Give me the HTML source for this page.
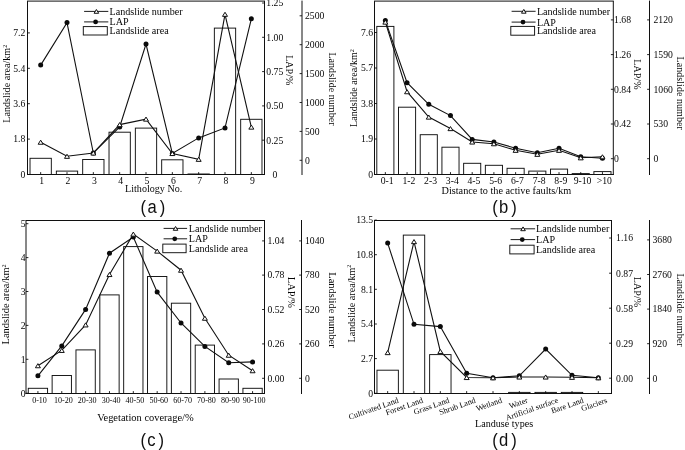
<!DOCTYPE html>
<html><head><meta charset="utf-8"><title>Landslide statistics</title>
<style>
html,body{margin:0;padding:0;background:#fff;}
svg{display:block;}
svg text{font-family:"Liberation Serif",serif;fill:#050505;}
</style></head><body>
<svg width="685" height="450" viewBox="0 0 685 450">
<defs><filter id="soft" x="0" y="0" width="685" height="450" filterUnits="userSpaceOnUse" color-interpolation-filters="sRGB"><feGaussianBlur stdDeviation="0.42"/></filter></defs>
<rect width="685" height="450" fill="#fff"/>
<g filter="url(#soft)">
<rect width="685" height="450" fill="#fff"/>
<rect x="30.02" y="158.30" width="21.30" height="16.20" fill="#fff" stroke="#101010" stroke-width="0.95"/>
<rect x="56.35" y="171.10" width="21.30" height="3.40" fill="#fff" stroke="#101010" stroke-width="0.95"/>
<rect x="82.68" y="159.50" width="21.30" height="15.00" fill="#fff" stroke="#101010" stroke-width="0.95"/>
<rect x="109.02" y="132.20" width="21.30" height="42.30" fill="#fff" stroke="#101010" stroke-width="0.95"/>
<rect x="135.35" y="128.10" width="21.30" height="46.40" fill="#fff" stroke="#101010" stroke-width="0.95"/>
<rect x="161.68" y="159.80" width="21.30" height="14.70" fill="#fff" stroke="#101010" stroke-width="0.95"/>
<rect x="188.02" y="174.00" width="21.30" height="0.50" fill="#fff" stroke="#101010" stroke-width="0.95"/>
<rect x="214.35" y="28.10" width="21.30" height="146.40" fill="#fff" stroke="#101010" stroke-width="0.95"/>
<rect x="240.68" y="119.30" width="21.30" height="55.20" fill="#fff" stroke="#101010" stroke-width="0.95"/>
<line x1="27.50" y1="1.10" x2="27.50" y2="175.00" stroke="#101010" stroke-width="1.0"/>
<line x1="264.50" y1="1.10" x2="264.50" y2="175.00" stroke="#101010" stroke-width="1.0"/>
<line x1="27.00" y1="1.10" x2="265.00" y2="1.10" stroke="#101010" stroke-width="1.0"/>
<line x1="27.00" y1="174.50" x2="265.00" y2="174.50" stroke="#101010" stroke-width="1.1"/>
<line x1="302.00" y1="0.60" x2="302.00" y2="175.00" stroke="#101010" stroke-width="1.0"/>
<line x1="27.50" y1="174.50" x2="29.90" y2="174.50" stroke="#101010" stroke-width="0.9"/>
<text x="25.30" y="177.80" font-size="9.7" text-anchor="end">0</text>
<line x1="27.50" y1="139.10" x2="29.90" y2="139.10" stroke="#101010" stroke-width="0.9"/>
<text x="25.30" y="142.40" font-size="9.7" text-anchor="end">1.8</text>
<line x1="27.50" y1="103.70" x2="29.90" y2="103.70" stroke="#101010" stroke-width="0.9"/>
<text x="25.30" y="107.00" font-size="9.7" text-anchor="end">3.6</text>
<line x1="27.50" y1="68.30" x2="29.90" y2="68.30" stroke="#101010" stroke-width="0.9"/>
<text x="25.30" y="71.60" font-size="9.7" text-anchor="end">5.4</text>
<line x1="27.50" y1="32.90" x2="29.90" y2="32.90" stroke="#101010" stroke-width="0.9"/>
<text x="25.30" y="36.20" font-size="9.7" text-anchor="end">7.2</text>
<line x1="262.10" y1="174.50" x2="264.50" y2="174.50" stroke="#101010" stroke-width="0.9"/>
<text x="272.40" y="177.80" font-size="9.7" text-anchor="start">0</text>
<line x1="262.10" y1="140.20" x2="264.50" y2="140.20" stroke="#101010" stroke-width="0.9"/>
<text x="266.30" y="143.50" font-size="9.7" text-anchor="start">0.25</text>
<line x1="262.10" y1="105.90" x2="264.50" y2="105.90" stroke="#101010" stroke-width="0.9"/>
<text x="266.30" y="109.20" font-size="9.7" text-anchor="start">0.50</text>
<line x1="262.10" y1="71.60" x2="264.50" y2="71.60" stroke="#101010" stroke-width="0.9"/>
<text x="266.30" y="74.90" font-size="9.7" text-anchor="start">0.75</text>
<line x1="262.10" y1="37.30" x2="264.50" y2="37.30" stroke="#101010" stroke-width="0.9"/>
<text x="266.30" y="40.60" font-size="9.7" text-anchor="start">1.00</text>
<line x1="262.10" y1="3.00" x2="264.50" y2="3.00" stroke="#101010" stroke-width="0.9"/>
<text x="266.30" y="6.30" font-size="9.7" text-anchor="start">1.25</text>
<line x1="299.60" y1="160.30" x2="302.00" y2="160.30" stroke="#101010" stroke-width="0.9"/>
<text x="305.00" y="163.60" font-size="9.7" text-anchor="start">0</text>
<line x1="299.60" y1="131.40" x2="302.00" y2="131.40" stroke="#101010" stroke-width="0.9"/>
<text x="305.00" y="134.70" font-size="9.7" text-anchor="start">500</text>
<line x1="299.60" y1="102.50" x2="302.00" y2="102.50" stroke="#101010" stroke-width="0.9"/>
<text x="305.00" y="105.80" font-size="9.7" text-anchor="start">1000</text>
<line x1="299.60" y1="73.60" x2="302.00" y2="73.60" stroke="#101010" stroke-width="0.9"/>
<text x="305.00" y="76.90" font-size="9.7" text-anchor="start">1500</text>
<line x1="299.60" y1="44.70" x2="302.00" y2="44.70" stroke="#101010" stroke-width="0.9"/>
<text x="305.00" y="48.00" font-size="9.7" text-anchor="start">2000</text>
<line x1="299.60" y1="15.80" x2="302.00" y2="15.80" stroke="#101010" stroke-width="0.9"/>
<text x="305.00" y="19.10" font-size="9.7" text-anchor="start">2500</text>
<line x1="40.67" y1="172.10" x2="40.67" y2="174.50" stroke="#101010" stroke-width="0.9"/>
<line x1="67.00" y1="172.10" x2="67.00" y2="174.50" stroke="#101010" stroke-width="0.9"/>
<line x1="93.33" y1="172.10" x2="93.33" y2="174.50" stroke="#101010" stroke-width="0.9"/>
<line x1="119.67" y1="172.10" x2="119.67" y2="174.50" stroke="#101010" stroke-width="0.9"/>
<line x1="146.00" y1="172.10" x2="146.00" y2="174.50" stroke="#101010" stroke-width="0.9"/>
<line x1="172.33" y1="172.10" x2="172.33" y2="174.50" stroke="#101010" stroke-width="0.9"/>
<line x1="198.67" y1="172.10" x2="198.67" y2="174.50" stroke="#101010" stroke-width="0.9"/>
<line x1="225.00" y1="172.10" x2="225.00" y2="174.50" stroke="#101010" stroke-width="0.9"/>
<line x1="251.33" y1="172.10" x2="251.33" y2="174.50" stroke="#101010" stroke-width="0.9"/>
<text x="41.67" y="184.30" font-size="9.7" text-anchor="middle">1</text>
<text x="68.00" y="184.30" font-size="9.7" text-anchor="middle">2</text>
<text x="94.33" y="184.30" font-size="9.7" text-anchor="middle">3</text>
<text x="120.67" y="184.30" font-size="9.7" text-anchor="middle">4</text>
<text x="147.00" y="184.30" font-size="9.7" text-anchor="middle">5</text>
<text x="173.33" y="184.30" font-size="9.7" text-anchor="middle">6</text>
<text x="199.67" y="184.30" font-size="9.7" text-anchor="middle">7</text>
<text x="226.00" y="184.30" font-size="9.7" text-anchor="middle">8</text>
<text x="252.33" y="184.30" font-size="9.7" text-anchor="middle">9</text>
<polyline points="40.67,142.20 67.00,156.30 93.33,153.00 119.67,124.60 146.00,119.10 172.33,153.50 198.67,159.30 225.00,14.30 251.33,127.10" fill="none" stroke="#101010" stroke-width="1.1"/>
<polyline points="40.67,65.10 67.00,22.60 93.33,153.00 119.67,126.90 146.00,44.00 172.33,153.50 198.67,137.90 225.00,127.90 251.33,18.80" fill="none" stroke="#101010" stroke-width="1.1"/>
<circle cx="40.67" cy="65.10" r="2.5" fill="#0a0a0a"/>
<circle cx="67.00" cy="22.60" r="2.5" fill="#0a0a0a"/>
<circle cx="93.33" cy="153.00" r="2.5" fill="#0a0a0a"/>
<circle cx="119.67" cy="126.90" r="2.5" fill="#0a0a0a"/>
<circle cx="146.00" cy="44.00" r="2.5" fill="#0a0a0a"/>
<circle cx="172.33" cy="153.50" r="2.5" fill="#0a0a0a"/>
<circle cx="198.67" cy="137.90" r="2.5" fill="#0a0a0a"/>
<circle cx="225.00" cy="127.90" r="2.5" fill="#0a0a0a"/>
<circle cx="251.33" cy="18.80" r="2.5" fill="#0a0a0a"/>
<polygon points="40.67,140.15 38.17,144.25 43.17,144.25" fill="#fff" stroke="#101010" stroke-width="1.0" stroke-linejoin="round"/>
<polygon points="67.00,154.25 64.50,158.35 69.50,158.35" fill="#fff" stroke="#101010" stroke-width="1.0" stroke-linejoin="round"/>
<polygon points="93.33,150.95 90.83,155.05 95.83,155.05" fill="#fff" stroke="#101010" stroke-width="1.0" stroke-linejoin="round"/>
<polygon points="119.67,122.55 117.17,126.65 122.17,126.65" fill="#fff" stroke="#101010" stroke-width="1.0" stroke-linejoin="round"/>
<polygon points="146.00,117.05 143.50,121.15 148.50,121.15" fill="#fff" stroke="#101010" stroke-width="1.0" stroke-linejoin="round"/>
<polygon points="172.33,151.45 169.83,155.55 174.83,155.55" fill="#fff" stroke="#101010" stroke-width="1.0" stroke-linejoin="round"/>
<polygon points="198.67,157.25 196.17,161.35 201.17,161.35" fill="#fff" stroke="#101010" stroke-width="1.0" stroke-linejoin="round"/>
<polygon points="225.00,12.25 222.50,16.35 227.50,16.35" fill="#fff" stroke="#101010" stroke-width="1.0" stroke-linejoin="round"/>
<polygon points="251.33,125.05 248.83,129.15 253.83,129.15" fill="#fff" stroke="#101010" stroke-width="1.0" stroke-linejoin="round"/>
<line x1="84.10" y1="11.40" x2="108.30" y2="11.40" stroke="#101010" stroke-width="0.95"/>
<polygon points="96.40,9.51 94.10,13.29 98.70,13.29" fill="#fff" stroke="#101010" stroke-width="1.0" stroke-linejoin="round"/>
<line x1="84.10" y1="21.90" x2="108.30" y2="21.90" stroke="#101010" stroke-width="0.95"/>
<circle cx="95.60" cy="21.90" r="2.4" fill="#0a0a0a"/>
<rect x="83.30" y="26.60" width="24.00" height="8.40" fill="#fff" stroke="#101010" stroke-width="0.95"/>
<text x="109.50" y="14.80" font-size="10.1" text-anchor="start">Landslide number</text>
<text x="109.50" y="25.30" font-size="10.1" text-anchor="start">LAP</text>
<text x="109.50" y="34.00" font-size="10.1" text-anchor="start">Landslide area</text>
<text x="10.20" y="83.70" font-size="10.1" text-anchor="middle" transform="rotate(-90 10.20 83.70)">Landslide area/km<tspan font-size="6.2" dy="-3.6">2</tspan></text>
<text x="286.00" y="70.30" font-size="10.1" text-anchor="middle" transform="rotate(90 286.00 70.30)">LAP/%</text>
<text x="328.60" y="89.00" font-size="10.1" text-anchor="middle" transform="rotate(90 328.60 89.00)">Landslide number</text>
<text x="153.70" y="191.60" font-size="10.1" text-anchor="middle">Lithology No.</text>
<text transform="translate(140.60 212.60) scale(1 1.075)" font-size="16.6" style="font-family:&quot;Liberation Sans&quot;,sans-serif;fill:#101010">(<tspan dx="1.4">a</tspan><tspan dx="2.9">)</tspan></text>
<rect x="376.80" y="26.40" width="17.10" height="148.10" fill="#fff" stroke="#101010" stroke-width="0.95"/>
<rect x="398.51" y="107.20" width="17.10" height="67.30" fill="#fff" stroke="#101010" stroke-width="0.95"/>
<rect x="420.22" y="134.70" width="17.10" height="39.80" fill="#fff" stroke="#101010" stroke-width="0.95"/>
<rect x="441.93" y="147.20" width="17.10" height="27.30" fill="#fff" stroke="#101010" stroke-width="0.95"/>
<rect x="463.64" y="163.30" width="17.10" height="11.20" fill="#fff" stroke="#101010" stroke-width="0.95"/>
<rect x="485.35" y="165.30" width="17.10" height="9.20" fill="#fff" stroke="#101010" stroke-width="0.95"/>
<rect x="507.06" y="168.30" width="17.10" height="6.20" fill="#fff" stroke="#101010" stroke-width="0.95"/>
<rect x="528.77" y="171.10" width="17.10" height="3.40" fill="#fff" stroke="#101010" stroke-width="0.95"/>
<rect x="550.48" y="169.10" width="17.10" height="5.40" fill="#fff" stroke="#101010" stroke-width="0.95"/>
<rect x="572.19" y="173.60" width="17.10" height="0.90" fill="#fff" stroke="#101010" stroke-width="0.95"/>
<rect x="593.90" y="171.60" width="17.10" height="2.90" fill="#fff" stroke="#101010" stroke-width="0.95"/>
<line x1="374.50" y1="1.10" x2="374.50" y2="175.00" stroke="#101010" stroke-width="1.0"/>
<line x1="613.30" y1="1.10" x2="613.30" y2="175.00" stroke="#101010" stroke-width="1.0"/>
<line x1="374.00" y1="1.10" x2="613.80" y2="1.10" stroke="#101010" stroke-width="1.0"/>
<line x1="374.00" y1="174.50" x2="613.80" y2="174.50" stroke="#101010" stroke-width="1.1"/>
<line x1="649.50" y1="0.60" x2="649.50" y2="175.00" stroke="#101010" stroke-width="1.0"/>
<line x1="374.50" y1="174.50" x2="376.90" y2="174.50" stroke="#101010" stroke-width="0.9"/>
<text x="373.05" y="177.80" font-size="9.7" text-anchor="end">0</text>
<line x1="374.50" y1="139.00" x2="376.90" y2="139.00" stroke="#101010" stroke-width="0.9"/>
<text x="373.05" y="142.30" font-size="9.7" text-anchor="end">1.9</text>
<line x1="374.50" y1="103.50" x2="376.90" y2="103.50" stroke="#101010" stroke-width="0.9"/>
<text x="373.05" y="106.80" font-size="9.7" text-anchor="end">3.8</text>
<line x1="374.50" y1="68.00" x2="376.90" y2="68.00" stroke="#101010" stroke-width="0.9"/>
<text x="373.05" y="71.30" font-size="9.7" text-anchor="end">5.7</text>
<line x1="374.50" y1="32.50" x2="376.90" y2="32.50" stroke="#101010" stroke-width="0.9"/>
<text x="373.05" y="35.80" font-size="9.7" text-anchor="end">7.6</text>
<line x1="610.90" y1="158.70" x2="613.30" y2="158.70" stroke="#101010" stroke-width="0.9"/>
<text x="614.10" y="162.00" font-size="9.7" text-anchor="start">0</text>
<line x1="610.90" y1="124.00" x2="613.30" y2="124.00" stroke="#101010" stroke-width="0.9"/>
<text x="614.10" y="127.30" font-size="9.7" text-anchor="start">0.42</text>
<line x1="610.90" y1="89.30" x2="613.30" y2="89.30" stroke="#101010" stroke-width="0.9"/>
<text x="614.10" y="92.60" font-size="9.7" text-anchor="start">0.84</text>
<line x1="610.90" y1="54.60" x2="613.30" y2="54.60" stroke="#101010" stroke-width="0.9"/>
<text x="614.10" y="57.90" font-size="9.7" text-anchor="start">1.26</text>
<line x1="610.90" y1="19.90" x2="613.30" y2="19.90" stroke="#101010" stroke-width="0.9"/>
<text x="614.10" y="23.20" font-size="9.7" text-anchor="start">1.68</text>
<line x1="647.10" y1="158.70" x2="649.50" y2="158.70" stroke="#101010" stroke-width="0.9"/>
<text x="653.50" y="162.00" font-size="9.7" text-anchor="start">0</text>
<line x1="647.10" y1="124.00" x2="649.50" y2="124.00" stroke="#101010" stroke-width="0.9"/>
<text x="653.50" y="127.30" font-size="9.7" text-anchor="start">530</text>
<line x1="647.10" y1="89.30" x2="649.50" y2="89.30" stroke="#101010" stroke-width="0.9"/>
<text x="653.50" y="92.60" font-size="9.7" text-anchor="start">1060</text>
<line x1="647.10" y1="54.60" x2="649.50" y2="54.60" stroke="#101010" stroke-width="0.9"/>
<text x="653.50" y="57.90" font-size="9.7" text-anchor="start">1590</text>
<line x1="647.10" y1="19.90" x2="649.50" y2="19.90" stroke="#101010" stroke-width="0.9"/>
<text x="653.50" y="23.20" font-size="9.7" text-anchor="start">2120</text>
<line x1="385.35" y1="172.10" x2="385.35" y2="174.50" stroke="#101010" stroke-width="0.9"/>
<line x1="407.06" y1="172.10" x2="407.06" y2="174.50" stroke="#101010" stroke-width="0.9"/>
<line x1="428.77" y1="172.10" x2="428.77" y2="174.50" stroke="#101010" stroke-width="0.9"/>
<line x1="450.48" y1="172.10" x2="450.48" y2="174.50" stroke="#101010" stroke-width="0.9"/>
<line x1="472.19" y1="172.10" x2="472.19" y2="174.50" stroke="#101010" stroke-width="0.9"/>
<line x1="493.90" y1="172.10" x2="493.90" y2="174.50" stroke="#101010" stroke-width="0.9"/>
<line x1="515.61" y1="172.10" x2="515.61" y2="174.50" stroke="#101010" stroke-width="0.9"/>
<line x1="537.32" y1="172.10" x2="537.32" y2="174.50" stroke="#101010" stroke-width="0.9"/>
<line x1="559.03" y1="172.10" x2="559.03" y2="174.50" stroke="#101010" stroke-width="0.9"/>
<line x1="580.74" y1="172.10" x2="580.74" y2="174.50" stroke="#101010" stroke-width="0.9"/>
<line x1="602.45" y1="172.10" x2="602.45" y2="174.50" stroke="#101010" stroke-width="0.9"/>
<text x="387.15" y="184.30" font-size="9.7" text-anchor="middle">0-1</text>
<text x="408.86" y="184.30" font-size="9.7" text-anchor="middle">1-2</text>
<text x="430.57" y="184.30" font-size="9.7" text-anchor="middle">2-3</text>
<text x="452.28" y="184.30" font-size="9.7" text-anchor="middle">3-4</text>
<text x="473.99" y="184.30" font-size="9.7" text-anchor="middle">4-5</text>
<text x="495.70" y="184.30" font-size="9.7" text-anchor="middle">5-6</text>
<text x="517.41" y="184.30" font-size="9.7" text-anchor="middle">6-7</text>
<text x="539.12" y="184.30" font-size="9.7" text-anchor="middle">7-8</text>
<text x="560.83" y="184.30" font-size="9.7" text-anchor="middle">8-9</text>
<text x="582.54" y="184.30" font-size="9.7" text-anchor="middle">9-10</text>
<text x="604.25" y="184.30" font-size="9.7" text-anchor="middle">&gt;10</text>
<polyline points="385.35,22.10 407.06,91.70 428.77,117.10 450.48,128.60 472.19,142.00 493.90,143.70 515.61,150.30 537.32,154.30 559.03,150.30 580.74,157.80 602.45,156.80" fill="none" stroke="#101010" stroke-width="1.1"/>
<polyline points="385.35,20.60 407.06,82.70 428.77,104.30 450.48,115.60 472.19,139.40 493.90,142.00 515.61,148.20 537.32,152.80 559.03,148.20 580.74,156.80 602.45,158.30" fill="none" stroke="#101010" stroke-width="1.1"/>
<circle cx="385.35" cy="20.60" r="2.5" fill="#0a0a0a"/>
<circle cx="407.06" cy="82.70" r="2.5" fill="#0a0a0a"/>
<circle cx="428.77" cy="104.30" r="2.5" fill="#0a0a0a"/>
<circle cx="450.48" cy="115.60" r="2.5" fill="#0a0a0a"/>
<circle cx="472.19" cy="139.40" r="2.5" fill="#0a0a0a"/>
<circle cx="493.90" cy="142.00" r="2.5" fill="#0a0a0a"/>
<circle cx="515.61" cy="148.20" r="2.5" fill="#0a0a0a"/>
<circle cx="537.32" cy="152.80" r="2.5" fill="#0a0a0a"/>
<circle cx="559.03" cy="148.20" r="2.5" fill="#0a0a0a"/>
<circle cx="580.74" cy="156.80" r="2.5" fill="#0a0a0a"/>
<circle cx="602.45" cy="158.30" r="2.5" fill="#0a0a0a"/>
<polygon points="385.35,20.05 382.85,24.15 387.85,24.15" fill="#fff" stroke="#101010" stroke-width="1.0" stroke-linejoin="round"/>
<polygon points="407.06,89.65 404.56,93.75 409.56,93.75" fill="#fff" stroke="#101010" stroke-width="1.0" stroke-linejoin="round"/>
<polygon points="428.77,115.05 426.27,119.15 431.27,119.15" fill="#fff" stroke="#101010" stroke-width="1.0" stroke-linejoin="round"/>
<polygon points="450.48,126.55 447.98,130.65 452.98,130.65" fill="#fff" stroke="#101010" stroke-width="1.0" stroke-linejoin="round"/>
<polygon points="472.19,139.95 469.69,144.05 474.69,144.05" fill="#fff" stroke="#101010" stroke-width="1.0" stroke-linejoin="round"/>
<polygon points="493.90,141.65 491.40,145.75 496.40,145.75" fill="#fff" stroke="#101010" stroke-width="1.0" stroke-linejoin="round"/>
<polygon points="515.61,148.25 513.11,152.35 518.11,152.35" fill="#fff" stroke="#101010" stroke-width="1.0" stroke-linejoin="round"/>
<polygon points="537.32,152.25 534.82,156.35 539.82,156.35" fill="#fff" stroke="#101010" stroke-width="1.0" stroke-linejoin="round"/>
<polygon points="559.03,148.25 556.53,152.35 561.53,152.35" fill="#fff" stroke="#101010" stroke-width="1.0" stroke-linejoin="round"/>
<polygon points="580.74,155.75 578.24,159.85 583.24,159.85" fill="#fff" stroke="#101010" stroke-width="1.0" stroke-linejoin="round"/>
<polygon points="602.45,154.75 599.95,158.85 604.95,158.85" fill="#fff" stroke="#101010" stroke-width="1.0" stroke-linejoin="round"/>
<line x1="511.60" y1="11.30" x2="535.60" y2="11.30" stroke="#101010" stroke-width="0.95"/>
<polygon points="523.80,9.41 521.50,13.19 526.10,13.19" fill="#fff" stroke="#101010" stroke-width="1.0" stroke-linejoin="round"/>
<line x1="511.60" y1="22.10" x2="535.60" y2="22.10" stroke="#101010" stroke-width="0.95"/>
<circle cx="523.00" cy="22.10" r="2.4" fill="#0a0a0a"/>
<rect x="510.80" y="26.40" width="23.80" height="8.80" fill="#fff" stroke="#101010" stroke-width="0.95"/>
<text x="536.90" y="14.70" font-size="10.1" text-anchor="start">Landslide number</text>
<text x="536.90" y="25.50" font-size="10.1" text-anchor="start">LAP</text>
<text x="536.90" y="34.00" font-size="10.1" text-anchor="start">Landslide area</text>
<text x="357.20" y="88.00" font-size="10.1" text-anchor="middle" transform="rotate(-90 357.20 88.00)">Landslide area/km<tspan font-size="6.2" dy="-3.6">2</tspan></text>
<text x="633.50" y="74.40" font-size="10.1" text-anchor="middle" transform="rotate(90 633.50 74.40)">LAP/%</text>
<text x="677.00" y="93.20" font-size="10.1" text-anchor="middle" transform="rotate(90 677.00 93.20)">Landslide number</text>
<text x="506.40" y="194.30" font-size="10.25" text-anchor="middle">Distance to the active faults/km</text>
<text transform="translate(492.20 212.60) scale(1 1.075)" font-size="16.6" style="font-family:&quot;Liberation Sans&quot;,sans-serif;fill:#101010">(<tspan dx="1.4">b</tspan><tspan dx="2.9">)</tspan></text>
<rect x="28.27" y="388.30" width="19.30" height="5.20" fill="#fff" stroke="#101010" stroke-width="0.95"/>
<rect x="52.13" y="375.50" width="19.30" height="18.00" fill="#fff" stroke="#101010" stroke-width="0.95"/>
<rect x="75.97" y="349.90" width="19.30" height="43.60" fill="#fff" stroke="#101010" stroke-width="0.95"/>
<rect x="99.83" y="294.90" width="19.30" height="98.60" fill="#fff" stroke="#101010" stroke-width="0.95"/>
<rect x="123.67" y="246.60" width="19.30" height="146.90" fill="#fff" stroke="#101010" stroke-width="0.95"/>
<rect x="147.53" y="276.50" width="19.30" height="117.00" fill="#fff" stroke="#101010" stroke-width="0.95"/>
<rect x="171.38" y="303.20" width="19.30" height="90.30" fill="#fff" stroke="#101010" stroke-width="0.95"/>
<rect x="195.22" y="345.10" width="19.30" height="48.40" fill="#fff" stroke="#101010" stroke-width="0.95"/>
<rect x="219.08" y="379.00" width="19.30" height="14.50" fill="#fff" stroke="#101010" stroke-width="0.95"/>
<rect x="242.93" y="388.30" width="19.30" height="5.20" fill="#fff" stroke="#101010" stroke-width="0.95"/>
<line x1="26.00" y1="220.50" x2="26.00" y2="394.00" stroke="#101010" stroke-width="1.0"/>
<line x1="264.50" y1="220.50" x2="264.50" y2="394.00" stroke="#101010" stroke-width="1.0"/>
<line x1="25.50" y1="220.50" x2="265.00" y2="220.50" stroke="#101010" stroke-width="1.0"/>
<line x1="25.50" y1="393.50" x2="265.00" y2="393.50" stroke="#101010" stroke-width="1.1"/>
<line x1="301.50" y1="220.00" x2="301.50" y2="394.00" stroke="#101010" stroke-width="1.0"/>
<line x1="26.00" y1="393.20" x2="28.40" y2="393.20" stroke="#101010" stroke-width="0.9"/>
<text x="25.50" y="396.50" font-size="9.7" text-anchor="end">0</text>
<line x1="26.00" y1="359.30" x2="28.40" y2="359.30" stroke="#101010" stroke-width="0.9"/>
<text x="25.50" y="362.60" font-size="9.7" text-anchor="end">1</text>
<line x1="26.00" y1="325.40" x2="28.40" y2="325.40" stroke="#101010" stroke-width="0.9"/>
<text x="25.50" y="328.70" font-size="9.7" text-anchor="end">2</text>
<line x1="26.00" y1="291.50" x2="28.40" y2="291.50" stroke="#101010" stroke-width="0.9"/>
<text x="25.50" y="294.80" font-size="9.7" text-anchor="end">3</text>
<line x1="26.00" y1="257.60" x2="28.40" y2="257.60" stroke="#101010" stroke-width="0.9"/>
<text x="25.50" y="260.90" font-size="9.7" text-anchor="end">4</text>
<line x1="26.00" y1="223.70" x2="28.40" y2="223.70" stroke="#101010" stroke-width="0.9"/>
<text x="25.50" y="227.00" font-size="9.7" text-anchor="end">5</text>
<line x1="262.10" y1="378.30" x2="264.50" y2="378.30" stroke="#101010" stroke-width="0.9"/>
<text x="267.50" y="381.60" font-size="9.7" text-anchor="start">0.00</text>
<line x1="262.10" y1="343.90" x2="264.50" y2="343.90" stroke="#101010" stroke-width="0.9"/>
<text x="267.50" y="347.20" font-size="9.7" text-anchor="start">0.26</text>
<line x1="262.10" y1="309.50" x2="264.50" y2="309.50" stroke="#101010" stroke-width="0.9"/>
<text x="267.50" y="312.80" font-size="9.7" text-anchor="start">0.52</text>
<line x1="262.10" y1="275.10" x2="264.50" y2="275.10" stroke="#101010" stroke-width="0.9"/>
<text x="267.50" y="278.40" font-size="9.7" text-anchor="start">0.78</text>
<line x1="262.10" y1="240.90" x2="264.50" y2="240.90" stroke="#101010" stroke-width="0.9"/>
<text x="267.50" y="244.20" font-size="9.7" text-anchor="start">1.04</text>
<line x1="299.10" y1="378.30" x2="301.50" y2="378.30" stroke="#101010" stroke-width="0.9"/>
<text x="305.00" y="381.60" font-size="9.7" text-anchor="start">0</text>
<line x1="299.10" y1="343.90" x2="301.50" y2="343.90" stroke="#101010" stroke-width="0.9"/>
<text x="305.00" y="347.20" font-size="9.7" text-anchor="start">260</text>
<line x1="299.10" y1="309.50" x2="301.50" y2="309.50" stroke="#101010" stroke-width="0.9"/>
<text x="305.00" y="312.80" font-size="9.7" text-anchor="start">520</text>
<line x1="299.10" y1="275.10" x2="301.50" y2="275.10" stroke="#101010" stroke-width="0.9"/>
<text x="305.00" y="278.40" font-size="9.7" text-anchor="start">780</text>
<line x1="299.10" y1="240.90" x2="301.50" y2="240.90" stroke="#101010" stroke-width="0.9"/>
<text x="305.00" y="244.20" font-size="9.7" text-anchor="start">1040</text>
<line x1="37.92" y1="391.10" x2="37.92" y2="393.50" stroke="#101010" stroke-width="0.9"/>
<line x1="61.78" y1="391.10" x2="61.78" y2="393.50" stroke="#101010" stroke-width="0.9"/>
<line x1="85.62" y1="391.10" x2="85.62" y2="393.50" stroke="#101010" stroke-width="0.9"/>
<line x1="109.48" y1="391.10" x2="109.48" y2="393.50" stroke="#101010" stroke-width="0.9"/>
<line x1="133.32" y1="391.10" x2="133.32" y2="393.50" stroke="#101010" stroke-width="0.9"/>
<line x1="157.18" y1="391.10" x2="157.18" y2="393.50" stroke="#101010" stroke-width="0.9"/>
<line x1="181.03" y1="391.10" x2="181.03" y2="393.50" stroke="#101010" stroke-width="0.9"/>
<line x1="204.88" y1="391.10" x2="204.88" y2="393.50" stroke="#101010" stroke-width="0.9"/>
<line x1="228.73" y1="391.10" x2="228.73" y2="393.50" stroke="#101010" stroke-width="0.9"/>
<line x1="252.58" y1="391.10" x2="252.58" y2="393.50" stroke="#101010" stroke-width="0.9"/>
<text x="39.52" y="402.80" font-size="8.05" text-anchor="middle">0-10</text>
<text x="63.38" y="402.80" font-size="8.05" text-anchor="middle">10-20</text>
<text x="87.22" y="402.80" font-size="8.05" text-anchor="middle">20-30</text>
<text x="111.08" y="402.80" font-size="8.05" text-anchor="middle">30-40</text>
<text x="134.92" y="402.80" font-size="8.05" text-anchor="middle">40-50</text>
<text x="158.78" y="402.80" font-size="8.05" text-anchor="middle">50-60</text>
<text x="182.62" y="402.80" font-size="8.05" text-anchor="middle">60-70</text>
<text x="206.47" y="402.80" font-size="8.05" text-anchor="middle">70-80</text>
<text x="230.33" y="402.80" font-size="8.05" text-anchor="middle">80-90</text>
<text x="254.18" y="402.80" font-size="8.05" text-anchor="middle">90-100</text>
<polyline points="37.92,365.70 61.78,350.40 85.62,324.90 109.48,274.50 133.32,234.10 157.18,251.10 181.03,270.20 204.88,318.20 228.73,355.20 252.58,370.70" fill="none" stroke="#101010" stroke-width="1.1"/>
<polyline points="37.92,375.80 61.78,345.90 85.62,309.40 109.48,253.20 133.32,237.10 157.18,292.10 181.03,323.00 204.88,346.40 228.73,362.70 252.58,361.90" fill="none" stroke="#101010" stroke-width="1.1"/>
<circle cx="37.92" cy="375.80" r="2.5" fill="#0a0a0a"/>
<circle cx="61.78" cy="345.90" r="2.5" fill="#0a0a0a"/>
<circle cx="85.62" cy="309.40" r="2.5" fill="#0a0a0a"/>
<circle cx="109.48" cy="253.20" r="2.5" fill="#0a0a0a"/>
<circle cx="133.32" cy="237.10" r="2.5" fill="#0a0a0a"/>
<circle cx="157.18" cy="292.10" r="2.5" fill="#0a0a0a"/>
<circle cx="181.03" cy="323.00" r="2.5" fill="#0a0a0a"/>
<circle cx="204.88" cy="346.40" r="2.5" fill="#0a0a0a"/>
<circle cx="228.73" cy="362.70" r="2.5" fill="#0a0a0a"/>
<circle cx="252.58" cy="361.90" r="2.5" fill="#0a0a0a"/>
<polygon points="37.92,363.65 35.42,367.75 40.42,367.75" fill="#fff" stroke="#101010" stroke-width="1.0" stroke-linejoin="round"/>
<polygon points="61.78,348.35 59.28,352.45 64.28,352.45" fill="#fff" stroke="#101010" stroke-width="1.0" stroke-linejoin="round"/>
<polygon points="85.62,322.85 83.12,326.95 88.12,326.95" fill="#fff" stroke="#101010" stroke-width="1.0" stroke-linejoin="round"/>
<polygon points="109.48,272.45 106.98,276.55 111.98,276.55" fill="#fff" stroke="#101010" stroke-width="1.0" stroke-linejoin="round"/>
<polygon points="133.32,232.05 130.82,236.15 135.82,236.15" fill="#fff" stroke="#101010" stroke-width="1.0" stroke-linejoin="round"/>
<polygon points="157.18,249.05 154.68,253.15 159.68,253.15" fill="#fff" stroke="#101010" stroke-width="1.0" stroke-linejoin="round"/>
<polygon points="181.03,268.15 178.53,272.25 183.53,272.25" fill="#fff" stroke="#101010" stroke-width="1.0" stroke-linejoin="round"/>
<polygon points="204.88,316.15 202.38,320.25 207.38,320.25" fill="#fff" stroke="#101010" stroke-width="1.0" stroke-linejoin="round"/>
<polygon points="228.73,353.15 226.23,357.25 231.23,357.25" fill="#fff" stroke="#101010" stroke-width="1.0" stroke-linejoin="round"/>
<polygon points="252.58,368.65 250.08,372.75 255.08,372.75" fill="#fff" stroke="#101010" stroke-width="1.0" stroke-linejoin="round"/>
<line x1="163.60" y1="228.40" x2="187.10" y2="228.40" stroke="#101010" stroke-width="0.95"/>
<polygon points="175.55,226.51 173.25,230.29 177.85,230.29" fill="#fff" stroke="#101010" stroke-width="1.0" stroke-linejoin="round"/>
<line x1="163.60" y1="238.80" x2="187.10" y2="238.80" stroke="#101010" stroke-width="0.95"/>
<circle cx="174.75" cy="238.80" r="2.4" fill="#0a0a0a"/>
<rect x="162.80" y="244.10" width="23.30" height="8.60" fill="#fff" stroke="#101010" stroke-width="0.95"/>
<text x="188.80" y="231.80" font-size="10.1" text-anchor="start">Landslide number</text>
<text x="188.80" y="242.20" font-size="10.1" text-anchor="start">LAP</text>
<text x="188.80" y="251.60" font-size="10.1" text-anchor="start">Landslide area</text>
<text x="9.20" y="304.40" font-size="10.4" text-anchor="middle" transform="rotate(-90 9.20 304.40)">Landslide area/km<tspan font-size="6.2" dy="-3.6">2</tspan></text>
<text x="287.60" y="292.40" font-size="10.4" text-anchor="middle" transform="rotate(90 287.60 292.40)">LAP/%</text>
<text x="328.60" y="310.00" font-size="10.4" text-anchor="middle" transform="rotate(90 328.60 310.00)">Landslide number</text>
<text x="145.40" y="420.60" font-size="10.45" text-anchor="middle">Vegetation coverage/%</text>
<text transform="translate(140.40 445.80) scale(1 1.075)" font-size="16.6" style="font-family:&quot;Liberation Sans&quot;,sans-serif;fill:#101010">(<tspan dx="1.4">c</tspan><tspan dx="2.9">)</tspan></text>
<rect x="376.97" y="370.20" width="21.40" height="23.30" fill="#fff" stroke="#101010" stroke-width="0.95"/>
<rect x="403.30" y="235.10" width="21.40" height="158.40" fill="#fff" stroke="#101010" stroke-width="0.95"/>
<rect x="429.63" y="354.60" width="21.40" height="38.90" fill="#fff" stroke="#101010" stroke-width="0.95"/>
<rect x="508.63" y="392.40" width="21.40" height="1.10" fill="#fff" stroke="#101010" stroke-width="0.95"/>
<rect x="534.97" y="392.40" width="21.40" height="1.10" fill="#fff" stroke="#101010" stroke-width="0.95"/>
<rect x="561.30" y="392.40" width="21.40" height="1.10" fill="#fff" stroke="#101010" stroke-width="0.95"/>
<line x1="374.50" y1="220.50" x2="374.50" y2="394.00" stroke="#101010" stroke-width="1.0"/>
<line x1="611.50" y1="220.50" x2="611.50" y2="394.00" stroke="#101010" stroke-width="1.0"/>
<line x1="374.00" y1="220.50" x2="612.00" y2="220.50" stroke="#101010" stroke-width="1.0"/>
<line x1="374.00" y1="393.50" x2="612.00" y2="393.50" stroke="#101010" stroke-width="1.1"/>
<line x1="649.50" y1="220.00" x2="649.50" y2="394.00" stroke="#101010" stroke-width="1.0"/>
<line x1="374.50" y1="393.30" x2="376.90" y2="393.30" stroke="#101010" stroke-width="0.9"/>
<text x="373.10" y="396.60" font-size="9.7" text-anchor="end">0</text>
<line x1="374.50" y1="358.60" x2="376.90" y2="358.60" stroke="#101010" stroke-width="0.9"/>
<text x="373.10" y="361.90" font-size="9.7" text-anchor="end">2.7</text>
<line x1="374.50" y1="324.00" x2="376.90" y2="324.00" stroke="#101010" stroke-width="0.9"/>
<text x="373.10" y="327.30" font-size="9.7" text-anchor="end">5.4</text>
<line x1="374.50" y1="289.30" x2="376.90" y2="289.30" stroke="#101010" stroke-width="0.9"/>
<text x="373.10" y="292.60" font-size="9.7" text-anchor="end">8.1</text>
<line x1="374.50" y1="254.70" x2="376.90" y2="254.70" stroke="#101010" stroke-width="0.9"/>
<text x="373.10" y="258.00" font-size="9.7" text-anchor="end">10.8</text>
<line x1="374.50" y1="220.10" x2="376.90" y2="220.10" stroke="#101010" stroke-width="0.9"/>
<text x="373.10" y="223.40" font-size="9.7" text-anchor="end">13.5</text>
<line x1="609.10" y1="378.20" x2="611.50" y2="378.20" stroke="#101010" stroke-width="0.9"/>
<text x="616.10" y="381.50" font-size="9.7" text-anchor="start">0.00</text>
<line x1="609.10" y1="343.20" x2="611.50" y2="343.20" stroke="#101010" stroke-width="0.9"/>
<text x="616.10" y="346.50" font-size="9.7" text-anchor="start">0.29</text>
<line x1="609.10" y1="308.20" x2="611.50" y2="308.20" stroke="#101010" stroke-width="0.9"/>
<text x="616.10" y="311.50" font-size="9.7" text-anchor="start">0.58</text>
<line x1="609.10" y1="273.20" x2="611.50" y2="273.20" stroke="#101010" stroke-width="0.9"/>
<text x="616.10" y="276.50" font-size="9.7" text-anchor="start">0.87</text>
<line x1="609.10" y1="238.00" x2="611.50" y2="238.00" stroke="#101010" stroke-width="0.9"/>
<text x="616.10" y="241.30" font-size="9.7" text-anchor="start">1.16</text>
<line x1="647.10" y1="378.30" x2="649.50" y2="378.30" stroke="#101010" stroke-width="0.9"/>
<text x="652.50" y="381.60" font-size="9.7" text-anchor="start">0</text>
<line x1="647.10" y1="343.70" x2="649.50" y2="343.70" stroke="#101010" stroke-width="0.9"/>
<text x="652.50" y="347.00" font-size="9.7" text-anchor="start">920</text>
<line x1="647.10" y1="309.10" x2="649.50" y2="309.10" stroke="#101010" stroke-width="0.9"/>
<text x="652.50" y="312.40" font-size="9.7" text-anchor="start">1840</text>
<line x1="647.10" y1="274.50" x2="649.50" y2="274.50" stroke="#101010" stroke-width="0.9"/>
<text x="652.50" y="277.80" font-size="9.7" text-anchor="start">2760</text>
<line x1="647.10" y1="239.90" x2="649.50" y2="239.90" stroke="#101010" stroke-width="0.9"/>
<text x="652.50" y="243.20" font-size="9.7" text-anchor="start">3680</text>
<line x1="387.67" y1="391.10" x2="387.67" y2="393.50" stroke="#101010" stroke-width="0.9"/>
<line x1="414.00" y1="391.10" x2="414.00" y2="393.50" stroke="#101010" stroke-width="0.9"/>
<line x1="440.33" y1="391.10" x2="440.33" y2="393.50" stroke="#101010" stroke-width="0.9"/>
<line x1="466.67" y1="391.10" x2="466.67" y2="393.50" stroke="#101010" stroke-width="0.9"/>
<line x1="493.00" y1="391.10" x2="493.00" y2="393.50" stroke="#101010" stroke-width="0.9"/>
<line x1="519.33" y1="391.10" x2="519.33" y2="393.50" stroke="#101010" stroke-width="0.9"/>
<line x1="545.67" y1="391.10" x2="545.67" y2="393.50" stroke="#101010" stroke-width="0.9"/>
<line x1="572.00" y1="391.10" x2="572.00" y2="393.50" stroke="#101010" stroke-width="0.9"/>
<line x1="598.33" y1="391.10" x2="598.33" y2="393.50" stroke="#101010" stroke-width="0.9"/>
<text x="399.17" y="402.40" font-size="8.1" text-anchor="end" transform="rotate(-19.3 399.17 402.40)">Cultivated Land</text>
<text x="423.50" y="402.40" font-size="8.1" text-anchor="end" transform="rotate(-19.3 423.50 402.40)">Forest Land</text>
<text x="449.83" y="402.40" font-size="8.1" text-anchor="end" transform="rotate(-19.3 449.83 402.40)">Grass Land</text>
<text x="476.17" y="402.40" font-size="8.1" text-anchor="end" transform="rotate(-19.3 476.17 402.40)">Shrub Land</text>
<text x="502.50" y="402.40" font-size="8.1" text-anchor="end" transform="rotate(-19.3 502.50 402.40)">Wetland</text>
<text x="528.33" y="402.40" font-size="8.1" text-anchor="end" transform="rotate(-19.3 528.33 402.40)">Water</text>
<text x="558.67" y="402.40" font-size="8.1" text-anchor="end" transform="rotate(-19.3 558.67 402.40)">Artificial surface</text>
<text x="584.20" y="402.40" font-size="8.1" text-anchor="end" transform="rotate(-19.3 584.20 402.40)">Bare Land</text>
<text x="607.83" y="402.40" font-size="8.1" text-anchor="end" transform="rotate(-19.3 607.83 402.40)">Glaciers</text>
<polyline points="387.67,352.60 414.00,241.60 440.33,351.40 466.67,377.50 493.00,377.80 519.33,377.00 545.67,377.00 572.00,377.30 598.33,377.80" fill="none" stroke="#101010" stroke-width="1.1"/>
<polyline points="387.67,243.10 414.00,324.30 440.33,326.60 466.67,373.20 493.00,377.80 519.33,375.80 545.67,349.10 572.00,375.30 598.33,377.80" fill="none" stroke="#101010" stroke-width="1.1"/>
<circle cx="387.67" cy="243.10" r="2.5" fill="#0a0a0a"/>
<circle cx="414.00" cy="324.30" r="2.5" fill="#0a0a0a"/>
<circle cx="440.33" cy="326.60" r="2.5" fill="#0a0a0a"/>
<circle cx="466.67" cy="373.20" r="2.5" fill="#0a0a0a"/>
<circle cx="493.00" cy="377.80" r="2.5" fill="#0a0a0a"/>
<circle cx="519.33" cy="375.80" r="2.5" fill="#0a0a0a"/>
<circle cx="545.67" cy="349.10" r="2.5" fill="#0a0a0a"/>
<circle cx="572.00" cy="375.30" r="2.5" fill="#0a0a0a"/>
<circle cx="598.33" cy="377.80" r="2.5" fill="#0a0a0a"/>
<polygon points="387.67,350.55 385.17,354.65 390.17,354.65" fill="#fff" stroke="#101010" stroke-width="1.0" stroke-linejoin="round"/>
<polygon points="414.00,239.55 411.50,243.65 416.50,243.65" fill="#fff" stroke="#101010" stroke-width="1.0" stroke-linejoin="round"/>
<polygon points="440.33,349.35 437.83,353.45 442.83,353.45" fill="#fff" stroke="#101010" stroke-width="1.0" stroke-linejoin="round"/>
<polygon points="466.67,375.45 464.17,379.55 469.17,379.55" fill="#fff" stroke="#101010" stroke-width="1.0" stroke-linejoin="round"/>
<polygon points="493.00,375.75 490.50,379.85 495.50,379.85" fill="#fff" stroke="#101010" stroke-width="1.0" stroke-linejoin="round"/>
<polygon points="519.33,374.95 516.83,379.05 521.83,379.05" fill="#fff" stroke="#101010" stroke-width="1.0" stroke-linejoin="round"/>
<polygon points="545.67,374.95 543.17,379.05 548.17,379.05" fill="#fff" stroke="#101010" stroke-width="1.0" stroke-linejoin="round"/>
<polygon points="572.00,375.25 569.50,379.35 574.50,379.35" fill="#fff" stroke="#101010" stroke-width="1.0" stroke-linejoin="round"/>
<polygon points="598.33,375.75 595.83,379.85 600.83,379.85" fill="#fff" stroke="#101010" stroke-width="1.0" stroke-linejoin="round"/>
<line x1="510.60" y1="228.80" x2="535.10" y2="228.80" stroke="#101010" stroke-width="0.95"/>
<polygon points="523.05,226.91 520.75,230.69 525.35,230.69" fill="#fff" stroke="#101010" stroke-width="1.0" stroke-linejoin="round"/>
<line x1="510.60" y1="239.60" x2="535.10" y2="239.60" stroke="#101010" stroke-width="0.95"/>
<circle cx="522.25" cy="239.60" r="2.4" fill="#0a0a0a"/>
<rect x="509.80" y="245.20" width="24.30" height="8.70" fill="#fff" stroke="#101010" stroke-width="0.95"/>
<text x="536.10" y="232.20" font-size="10.1" text-anchor="start">Landslide number</text>
<text x="536.10" y="243.00" font-size="10.1" text-anchor="start">LAP</text>
<text x="536.10" y="252.75" font-size="10.1" text-anchor="start">Landslide area</text>
<text x="354.90" y="303.50" font-size="10.1" text-anchor="middle" transform="rotate(-90 354.90 303.50)">Landslide area/km<tspan font-size="6.2" dy="-3.6">2</tspan></text>
<text x="634.20" y="292.00" font-size="10.1" text-anchor="middle" transform="rotate(90 634.20 292.00)">LAP/%</text>
<text x="677.00" y="310.00" font-size="10.1" text-anchor="middle" transform="rotate(90 677.00 310.00)">Landslide number</text>
<text x="504.10" y="427.20" font-size="10.1" text-anchor="middle">Landuse types</text>
<text transform="translate(492.20 445.80) scale(1 1.075)" font-size="16.6" style="font-family:&quot;Liberation Sans&quot;,sans-serif;fill:#101010">(<tspan dx="1.4">d</tspan><tspan dx="2.9">)</tspan></text>
</g>
</svg>
</body></html>
